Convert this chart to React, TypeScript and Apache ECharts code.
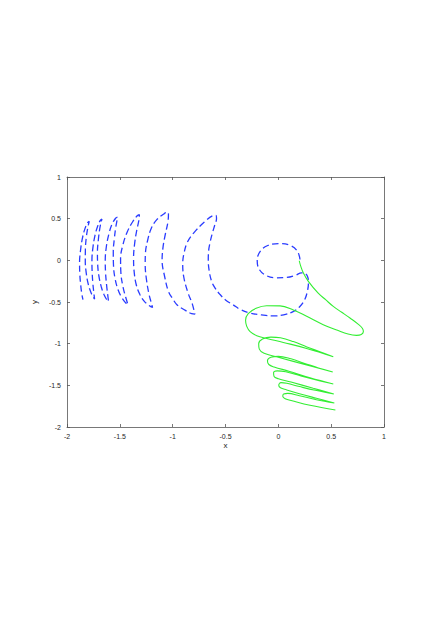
import React, { useEffect, useRef } from "react";
import * as echarts from "echarts";

// ---- axis settings ----
const xRange = [-2, 1];
const yRange = [-2, 1];
const tickStep = 0.5;

// ---- blue dashed curve (traced in order) ----
const blueCircle: number[][] = [
  [0.205, 0.01], [0.18, 0.11], [0.11, 0.18], [0.0, 0.2], [-0.1, 0.178], [-0.17, 0.11],
  [-0.2, 0.0], [-0.18, -0.11], [-0.11, -0.185], [-0.02, -0.21], [0.08, -0.205],
  [0.16, -0.18], [0.22, -0.15],
];
const blueBigLoop: number[][] = [
  [0.255, -0.16], [0.278, -0.2], [0.285, -0.27], [0.275, -0.37], [0.25, -0.47], [0.2, -0.56],
  [0.14, -0.615], [0.05, -0.655], [-0.05, -0.667], [-0.16, -0.655], [-0.27, -0.632],
  [-0.36, -0.59], [-0.43, -0.532], [-0.5, -0.475], [-0.555, -0.405], [-0.6, -0.33],
  [-0.632, -0.25], [-0.655, -0.12], [-0.663, 0.0], [-0.66, 0.11], [-0.645, 0.22],
  [-0.628, 0.31], [-0.6, 0.43], [-0.585, 0.5], [-0.592, 0.54],
];
const blueC1Outer: number[][] = [
  [-0.62, 0.535], [-0.7, 0.46], [-0.8, 0.33], [-0.86, 0.22], [-0.89, 0.1], [-0.905, -0.04],
  [-0.895, -0.2], [-0.855, -0.39], [-0.815, -0.52], [-0.79, -0.645],
];
const blueC2Inner: number[][] = [
  [-0.82, -0.64], [-0.88, -0.6], [-0.96, -0.532], [-1.0, -0.46], [-1.04, -0.373],
  [-1.075, -0.2], [-1.1, 0.0], [-1.09, 0.17], [-1.07, 0.31], [-1.045, 0.46], [-1.04, 0.555],
  [-1.05, 0.58],
];
const blueC2Outer: number[][] = [
  [-1.08, 0.56], [-1.15, 0.488], [-1.2, 0.39], [-1.235, 0.25], [-1.258, 0.08], [-1.26, -0.05],
  [-1.248, -0.23], [-1.225, -0.4], [-1.205, -0.5], [-1.19, -0.565],
];
const blueC3Inner: number[][] = [
  [-1.22, -0.545], [-1.27, -0.49], [-1.31, -0.41], [-1.345, -0.29], [-1.365, -0.13],
  [-1.37, 0.03], [-1.36, 0.2], [-1.34, 0.36], [-1.32, 0.48], [-1.315, 0.548],
];
const blueC3Outer: number[][] = [
  [-1.335, 0.535], [-1.38, 0.46], [-1.43, 0.34], [-1.47, 0.19], [-1.493, 0.02], [-1.49, -0.15],
  [-1.47, -0.32], [-1.445, -0.44], [-1.423, -0.532],
];
const blueC4Inner: number[][] = [
  [-1.445, -0.51], [-1.48, -0.45], [-1.515, -0.36], [-1.545, -0.22], [-1.56, -0.06],
  [-1.562, 0.1], [-1.552, 0.26], [-1.538, 0.4], [-1.525, 0.49], [-1.522, 0.52],
];
const blueC4Outer: number[][] = [
  [-1.54, 0.505], [-1.575, 0.43], [-1.605, 0.31], [-1.628, 0.16], [-1.638, 0.0],
  [-1.635, -0.15], [-1.625, -0.3], [-1.615, -0.41], [-1.607, -0.493],
];
const blueC5Inner: number[][] = [
  [-1.625, -0.47], [-1.65, -0.41], [-1.675, -0.32], [-1.698, -0.19], [-1.71, -0.04],
  [-1.712, 0.1], [-1.703, 0.25], [-1.69, 0.38], [-1.675, 0.47], [-1.669, 0.496],
];
const blueC5Outer: number[][] = [
  [-1.685, 0.48], [-1.71, 0.41], [-1.735, 0.3], [-1.755, 0.15], [-1.764, 0.0],
  [-1.762, -0.14], [-1.755, -0.28], [-1.746, -0.39], [-1.739, -0.464],
];
const blueC6Inner: number[][] = [
  [-1.753, -0.44], [-1.775, -0.38], [-1.8, -0.28], [-1.818, -0.15], [-1.827, -0.01],
  [-1.826, 0.13], [-1.818, 0.27], [-1.805, 0.38], [-1.793, 0.45], [-1.789, 0.467],
];
const blueC6Outer: number[][] = [
  [-1.805, 0.45], [-1.83, 0.38], [-1.855, 0.26], [-1.872, 0.12], [-1.881, -0.02],
  [-1.879, -0.16], [-1.87, -0.3], [-1.86, -0.4], [-1.849, -0.472],
];

// ---- green solid curve (traced in order) ----
const greenLoop0: number[][] = [
  [0.198, -0.005], [0.212, -0.07], [0.237, -0.152], [0.284, -0.252], [0.375, -0.39],
  [0.45, -0.475], [0.52, -0.553], [0.6, -0.623], [0.678, -0.692], [0.755, -0.765],
  [0.795, -0.815], [0.805, -0.855], [0.785, -0.89], [0.74, -0.9], [0.66, -0.885],
  [0.56, -0.84], [0.425, -0.772], [0.268, -0.672], [0.142, -0.595], [0.016, -0.546],
  [-0.11, -0.545], [-0.21, -0.575], [-0.285, -0.64], [-0.31, -0.72], [-0.3, -0.79],
  [-0.267, -0.856], [-0.204, -0.904], [-0.11, -0.937], [0.047, -0.985], [0.268, -1.057],
  [0.52, -1.157],
];
const greenLoop1: number[][] = [
  [0.4, -1.1], [0.27, -1.04], [0.142, -0.975], [0.02, -0.93], [-0.07, -0.922],
  [-0.15, -0.945], [-0.186, -1.0], [-0.18, -1.066], [-0.135, -1.115], [0.016, -1.168],
  [0.268, -1.256], [0.515, -1.34],
];
const greenLoop2: number[][] = [
  [0.38, -1.292], [0.25, -1.237], [0.12, -1.182], [0.0, -1.152], [-0.07, -1.162],
  [-0.103, -1.205], [-0.09, -1.25], [-0.04, -1.28], [0.1, -1.33], [0.3, -1.41],
  [0.52, -1.484],
];
const greenLoop3: number[][] = [
  [0.35, -1.432], [0.2, -1.382], [0.07, -1.337], [-0.01, -1.326], [-0.045, -1.35],
  [-0.04, -1.395], [0.0, -1.42], [0.12, -1.46], [0.33, -1.535], [0.525, -1.604],
];
const greenLoop4: number[][] = [
  [0.35, -1.56], [0.2, -1.515], [0.08, -1.476], [0.025, -1.468], [0.004, -1.5],
  [0.02, -1.53], [0.08, -1.555], [0.2, -1.6], [0.36, -1.655], [0.53, -1.712],
];
const greenLoop5: number[][] = [
  [0.36, -1.672], [0.2, -1.625], [0.09, -1.597], [0.05, -1.603], [0.042, -1.632],
  [0.065, -1.66], [0.13, -1.685], [0.3, -1.74], [0.54, -1.796],
];

const blueData = [
  ...blueCircle, ...blueBigLoop, ...blueC1Outer, ...blueC2Inner, ...blueC2Outer,
  ...blueC3Inner, ...blueC3Outer, ...blueC4Inner, ...blueC4Outer, ...blueC5Inner,
  ...blueC5Outer, ...blueC6Inner, ...blueC6Outer,
];
const greenData = [
  ...greenLoop0, ...greenLoop1, ...greenLoop2, ...greenLoop3, ...greenLoop4, ...greenLoop5,
];

const axisColor = "#555555";
const textColor = "#262626";
const fontFamily = "'Liberation Sans', Arial, sans-serif";

export default function App() {
  const ref = useRef<HTMLDivElement>(null);
  useEffect(() => {
    if (!ref.current) return;
    const chart = echarts.init(ref.current, undefined, { renderer: "svg" });
    const common = {
      type: "value" as const,
      interval: tickStep,
      splitLine: { show: false },
      axisLine: { show: true, onZero: false, lineStyle: { color: axisColor, width: 0.8 } },
      axisTick: { show: true, inside: true, length: 3, lineStyle: { color: axisColor, width: 0.8 } },
    };
    chart.setOption({
      animation: false,
      backgroundColor: "#ffffff",
      grid: { left: 67, right: 52, top: 177, bottom: 190, containLabel: false },
      xAxis: [
        {
          ...common,
          min: xRange[0],
          max: xRange[1],
          position: "bottom",
          name: "x",
          nameLocation: "middle",
          nameGap: 14,
          nameTextStyle: { color: textColor, fontSize: 8, fontFamily },
          axisLabel: { color: textColor, fontSize: 7, fontFamily, margin: 6 },
        },
        {
          ...common,
          min: xRange[0],
          max: xRange[1],
          position: "top",
          axisLabel: { show: false },
        },
      ],
      yAxis: [
        {
          ...common,
          min: yRange[0],
          max: yRange[1],
          position: "left",
          name: "y",
          nameLocation: "middle",
          nameGap: 19,
          nameRotate: 90,
          nameTextStyle: { color: textColor, fontSize: 8, fontFamily },
          axisLabel: { color: textColor, fontSize: 7, fontFamily, margin: 6 },
        },
        {
          ...common,
          min: yRange[0],
          max: yRange[1],
          position: "right",
          axisLabel: { show: false },
        },
      ],
      series: [
        {
          type: "line",
          data: blueData,
          xAxisIndex: 0,
          yAxisIndex: 0,
          showSymbol: false,
          smooth: 0.4,
          lineStyle: { color: "#2a3cff", width: 1.3, type: [6.5, 3.5] },
        },
        {
          type: "line",
          data: greenData,
          xAxisIndex: 0,
          yAxisIndex: 0,
          showSymbol: false,
          smooth: 0.4,
          lineStyle: { color: "#33ee33", width: 1.1 },
        },
      ],
    });
    return () => chart.dispose();
  }, []);
  return (
    <div
      ref={ref}
      style={{ position: "fixed", left: 0, top: 0, width: 436, height: 617, background: "#fff" }}
    />
  );
}
